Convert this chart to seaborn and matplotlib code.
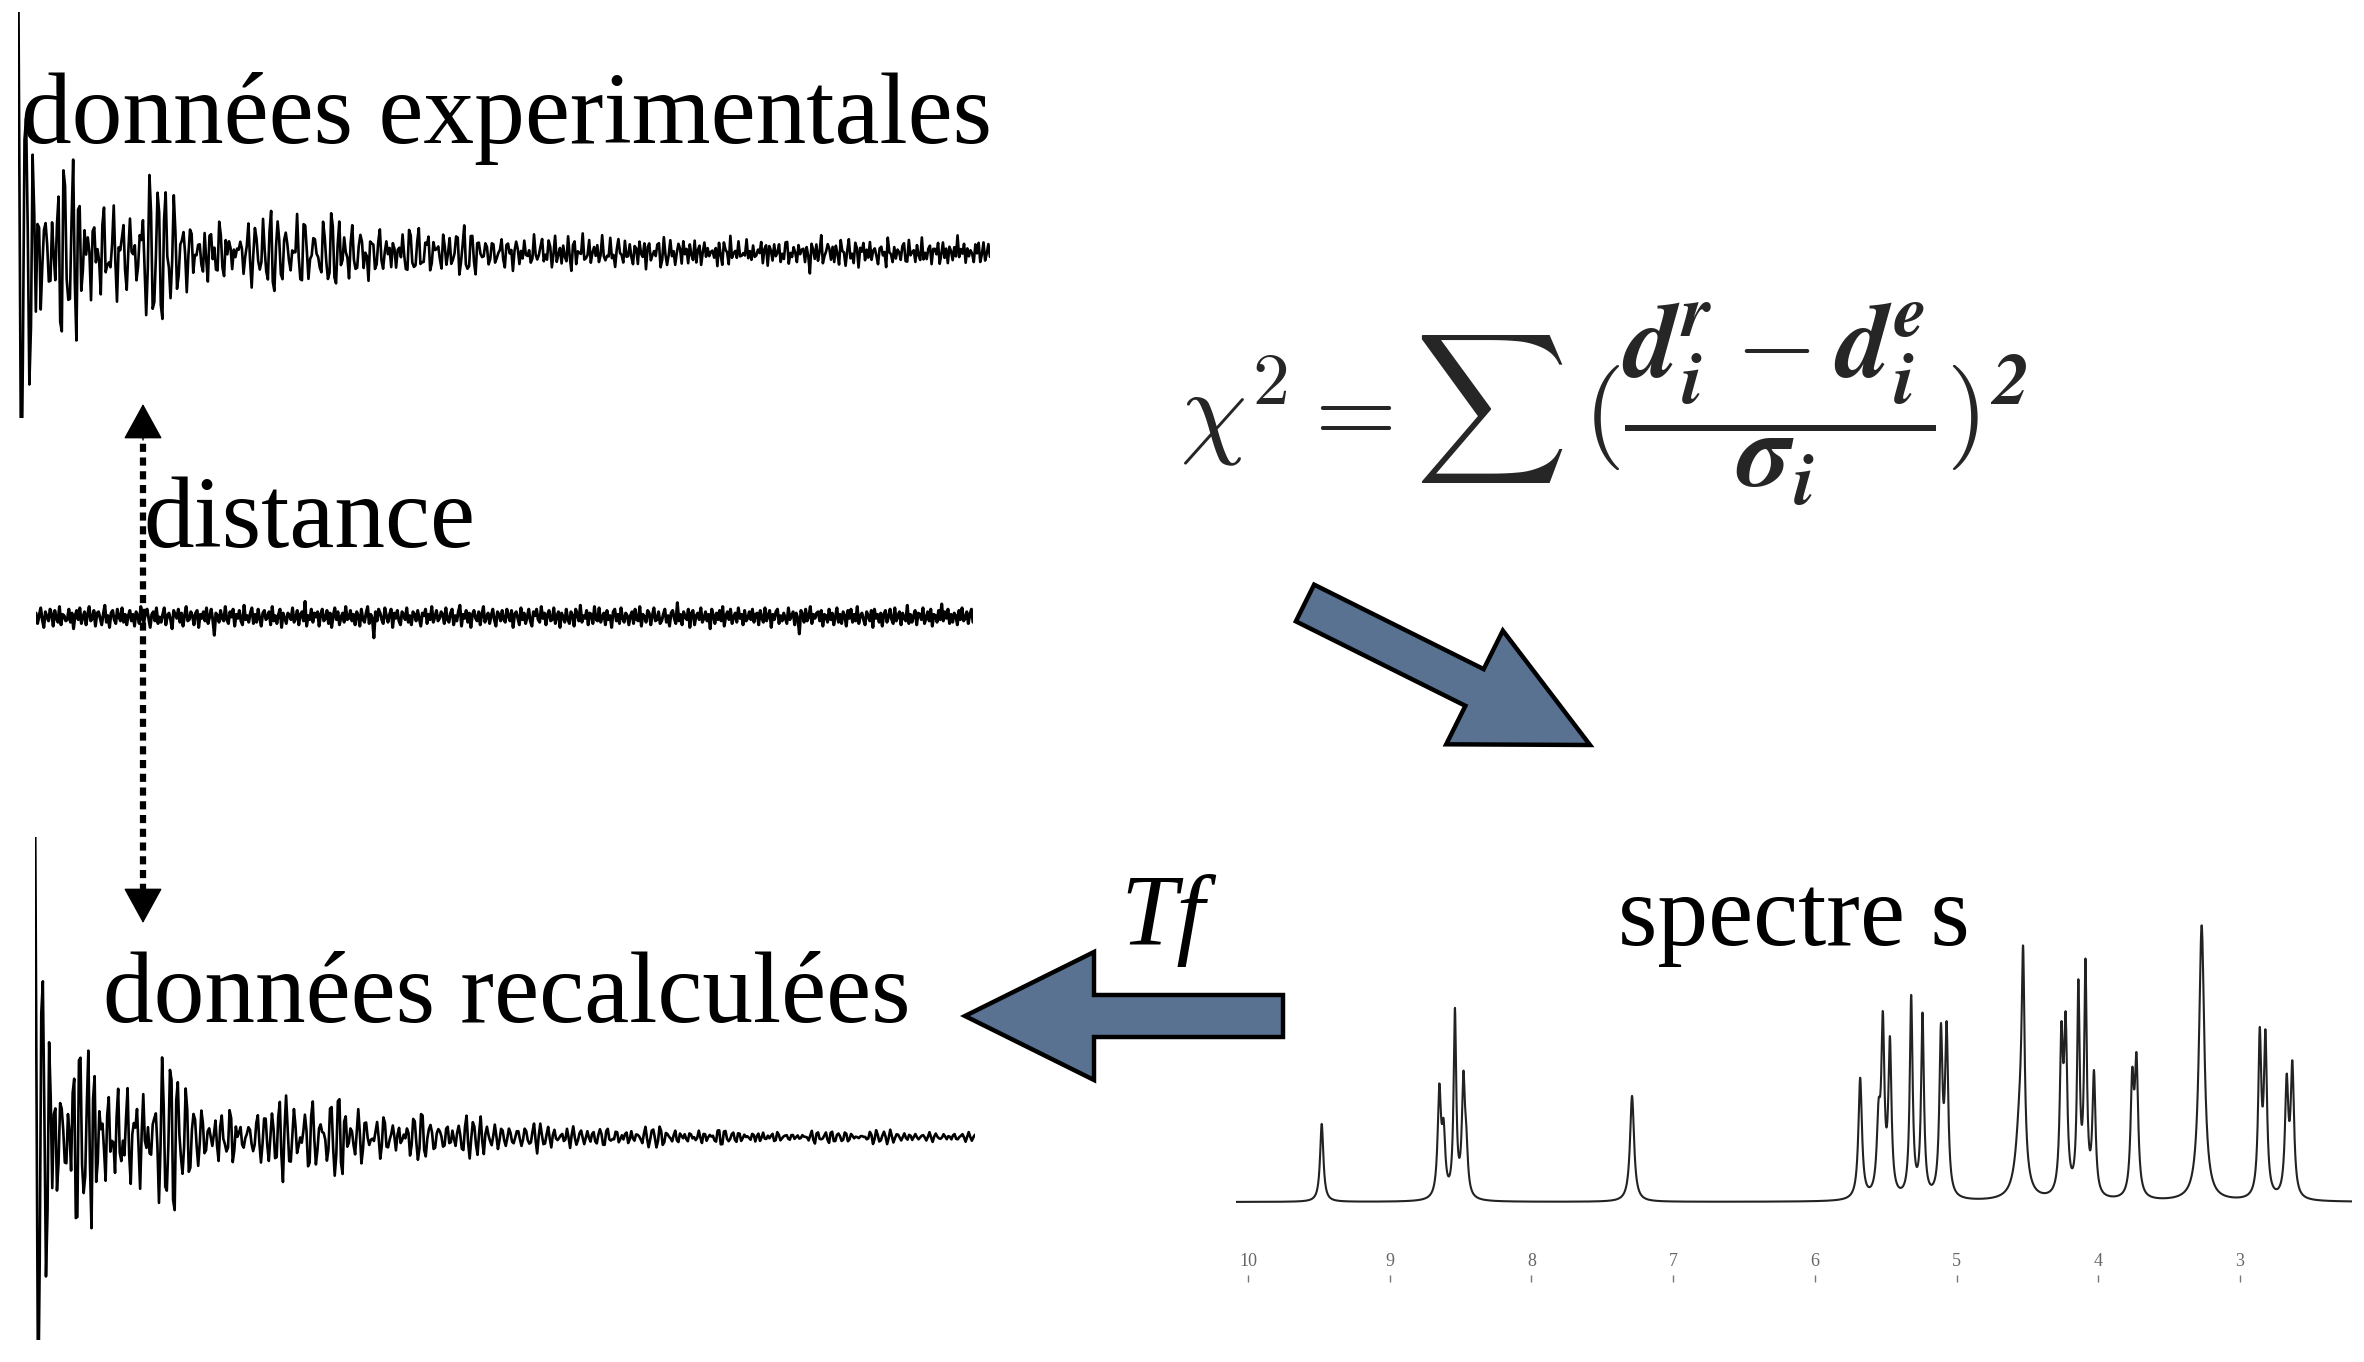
import numpy as np
import pandas as pd
import matplotlib.pyplot as plt
import seaborn as sns
from matplotlib.patches import FancyArrow

sns.set_theme(style="white")
plt.rcParams["font.family"] = ["Liberation Serif", "DejaVu Serif"]
plt.rcParams["mathtext.fontset"] = "cm"

W, H = 2364, 1362
OUT = "out.png"

# ----------------------------------------------------------------------
# data
# ----------------------------------------------------------------------
# NMR peak list: chemical shift (ppm), height (px), line width FWHM (ppm)
peak_ppm = [9.48, 8.65, 8.62, 8.54, 8.48, 8.46, 7.29,
            5.68, 5.55, 5.52, 5.47, 5.32, 5.24, 5.11, 5.07,
            4.55, 4.53, 4.26, 4.23, 4.14, 4.09, 4.03,
            3.76, 3.73, 3.27, 2.86, 2.82, 2.67, 2.63]
peak_height = [78, 105, 60, 185, 112, 40, 106,
               121, 70, 165, 150, 200, 181, 160, 163,
               80, 195, 150, 160, 205, 225, 120,
               110, 128, 276, 158, 155, 112, 128]
peak_width = [0.028, 0.028, 0.028, 0.022, 0.026, 0.026, 0.034,
              0.030, 0.030, 0.026, 0.026, 0.024, 0.024, 0.026, 0.026,
              0.070, 0.024, 0.026, 0.026, 0.022, 0.022, 0.026,
              0.028, 0.028, 0.045, 0.026, 0.026, 0.028, 0.028]

spec_ticks = [10, 9, 8, 7, 6, 5, 4, 3]

# residual (experimental - recalculated), one value per sample
residual = [
    3, -5, 1, 7, -2, -8, 4, 0, -3, 6, 2, -7, 5, -1, -4, 8, -6, 2, 1, -3,
    -2, 6, -4, 3, -9, 1, 5, -2, 7, -5, 0, 4, -6, 2, 8, -3, -1, 5, -7, 3,
    4, -1, -6, 2, 9, -4, 1, -8, 3, 5, -2, -5, 6, 0, -3, 7, -4, 2, -6, 1,
    5, -3, 2, -7, 4, 1, -5, 8, -2, -4, 3, 6, -1, -8, 2, 4, -3, 7, -5, 0,
    -4, 2, 7, -6, 1, 3, -2, -9, 5, 2, -1, 6, -4, 3, -7, 1, 8, -3, -2, 4,
    1, -6, 3, 5, -8, 2, -1, 4, -3, 7, -5, 0, 6, -2, -14, 3, 1, -4, 5, -1,
    -3, 8, -2, -5, 4, 0, 6, -7, 2, -1, 5, -3, -6, 9, -2, 1, -4, 3, 7, -5,
    2, -4, 6, -1, -7, 3, 5, -2, 0, 4, -6, 8, -3, 1, -5, 2, 6, -8, 3, -1,
    -5, 3, 1, -2, 7, -4, -1, 5, -6, 2, 4, -3, 12, -7, 1, -2, 6, -4, 3, 0,
    4, -7, 2, 6, -3, -1, 5, -5, 3, -8, 1, 7, -2, 4, -6, 0, 3, -4, 8, -2,
    -1, 5, -3, 2, -6, 4, 1, -7, 6, -2, -4, 3, 8, -5, 2, -1, -16, 4, -3, 6,
    3, -2, -5, 7, 1, -4, 2, 6, -8, 3, -1, 5, -3, -6, 4, 2, -2, 7, -4, 1,
    -6, 4, 2, -3, 5, -1, -7, 3, 1, 6, -5, 2, -2, 8, -4, 0, 5, -3, -1, 4,
    2, -5, 7, -2, -4, 3, 6, -6, 1, -3, 4, 9, -7, 2, -1, 5, -4, 3, -8, 2,
    5, -1, -3, 4, -6, 2, 8, -4, 0, 3, -5, 1, 6, -2, -7, 4, 2, -3, 5, -2,
    -4, 6, 1, -3, 5, -8, 2, 4, -1, -6, 7, -2, 3, -5, 0, 6, -3, -7, 4, 1,
    6, -2, -4, 8, -1, 3, -6, 2, 5, -3, -2, 7, -5, 1, 4, -8, 3, 0, -4, 6,
    -2, -5, 4, 1, -7, 6, 2, -3, 9, -4, 1, -1, 5, -6, 3, 2, -5, 8, -2, -3,
    7, -4, 0, 3, -6, 5, -2, 1, -8, 4, 6, -3, 2, -5, 7, -1, -4, 3, 1, -6,
    1, 4, -5, 6, -2, -3, 8, -7, 2, 0, -4, 5, 3, -6, 1, 7, -3, -2, 4, -5,
    -3, 2, 6, -4, 1, -7, 3, 5, -1, -5, 11, -3, 2, -6, 4, 0, -2, 6, -8, 3,
    5, -6, 1, 3, -2, 7, -4, -1, 4, -3, 2, -9, 6, 1, -5, 3, -2, 5, -3, 8,
    -7, 1, 4, -2, 6, -5, 0, 3, -4, 7, -1, 2, -6, 5, -3, -1, 4, -2, 6, -4,
    2, 3, -6, 5, -1, -4, 7, -3, 1, 5, -8, 2, -2, 4, 6, -5, 1, -3, 3, -1,
    -5, 7, -2, 1, 4, -6, 3, -1, -13, 5, 2, -4, 6, -3, 0, 8, -5, 2, -1, 3,
    4, -3, 5, -7, 2, 1, -4, 6, -2, 3, -6, 0, 7, -4, 2, -5, 4, 1, -7, 5,
    -1, 6, -4, 2, -3, 8, -5, 1, 3, -2, -6, 4, 1, -3, 5, -8, 6, -1, 2, -4,
    3, -7, 2, 5, -4, 0, 6, -2, -5, 7, -3, 1, 4, -6, 3, -1, -3, 9, -5, 2,
    -4, 1, 5, -6, 3, 2, -2, 7, -5, -1, 4, -3, 6, -7, 2, 1, -4, 5, -2, 10,
    -3, 4, -1, 6, -5, 2, -4, 3, 1, -6, 5, -2, 7, -3, -1, 4, -5, 2, 6, -4,
]

# ----------------------------------------------------------------------
# spectrum (Lorentzian lines) and its transform (the recalculated FID)
# ----------------------------------------------------------------------
ppm = np.linspace(10.085, 2.209, 5000)
spec = np.zeros_like(ppm)
for p, h, w in zip(peak_ppm, peak_height, peak_width):
    spec += h * (w / 2) ** 2 / ((ppm - p) ** 2 + (w / 2) ** 2)
spec_df = pd.DataFrame({"ppm": ppm, "intensity": spec})

N = len(residual)
t = np.arange(N)
carrier, fscale, tau = -4.0, 0.0256, 0.06   # ppm -> cycles / sample, decay
fid = np.zeros(N)
for p, h, w in zip(peak_ppm, peak_height, peak_width):
    fid += h * w * np.cos(2 * np.pi * (p - carrier) * fscale * t) * np.exp(-np.pi * w * tau * t)
fid /= fid.max()

res = np.array(residual, dtype=float)
recalc_df = pd.DataFrame({"t": t, "y": 350 * fid})
exp_df = pd.DataFrame({"t": t, "y": 330 * fid + 1.5 * res})
res_df = pd.DataFrame({"t": t, "y": 1.3 * res})

fig = plt.figure(figsize=(W / 100, H / 100), dpi=100)
fig.patch.set_facecolor("white")


def px_axes(x0, x1, y_top, y_bot):
    a = fig.add_axes([x0 / W, 1 - y_bot / H, (x1 - x0) / W, (y_bot - y_top) / H])
    a.set_facecolor("none")
    return a


def trace(df, x0, x1, base, lw, up=330, down=330):
    # the axes window is the visible band of the trace: up / down px round base
    a = px_axes(x0, x1, base - up, base + down)
    sns.lineplot(data=df, x="t", y="y", ax=a, color="black", lw=lw,
                 estimator=None, sort=False)
    a.set_xlim(0, N - 1); a.set_ylim(-down, up)
    a.set_axis_off()
    return a


trace(exp_df, 18, 990, 253, 1.9, up=241, down=165)
trace(res_df, 36, 973, 617, 2.2)
trace(recalc_df, 35, 975, 1137, 1.9, up=300, down=203)

# spectrum panel
sp = px_axes(1236, 2352, 880, 1282)
sns.lineplot(data=spec_df, x="ppm", y="intensity", ax=sp, color="#222222",
             lw=1.5, estimator=None, sort=False)
sp.set_xlim(10.085, 2.209)
sp.set_ylim(-80, 322)
sp.set_xticks(spec_ticks)
sp.set_xticklabels([str(v) for v in spec_ticks])
sp.set_yticks([])
sp.set_xlabel(""); sp.set_ylabel("")
for s in sp.spines.values():
    s.set_visible(False)
sp.tick_params(axis="x", direction="in", length=5, width=1, color="#777",
               bottom=True, pad=-21, labelsize=13, labelcolor="#666")

# overlay in figure pixels for text and arrows
ov = fig.add_axes([0, 0, 1, 1])
ov.set_xlim(0, W); ov.set_ylim(H, 0)
ov.set_axis_off(); ov.set_facecolor("none")

txt = dict(fontsize=73, color="black", va="baseline", ha="left")
ov.text(21, 143, "données experimentales", **txt)
ov.text(143, 547, "distance", **txt)
ov.text(103, 1022, "données recalculées", **txt)
ov.text(1618, 945, "spectre s", **txt)
ov.text(1120, 945, "Tf", style="italic", **txt)

ov.text(1604, 404,
        r"$\chi^2 = \sum\,(\dfrac{\mathbfit{d}_{\mathbfit{i}}^{\mathbfit{r}} - \mathbfit{d}_{\mathbfit{i}}^{\mathbfit{e}}}"
        r"{\mathbfit{\sigma}_{\mathbfit{i}}})^{\mathbfit{2}}$",
        fontsize=76, ha="center", va="center")

# dotted double arrow
ov.plot([143, 143], [430, 898], color="black", lw=4.5, ls=(0, (1.3, 0.9)),
        solid_capstyle="butt")
head = dict(arrowstyle="-|>,head_length=0.4,head_width=0.22", color="black",
            lw=1, mutation_scale=58, shrinkA=0, shrinkB=0)
ov.annotate("", xy=(143, 404), xytext=(143, 440), arrowprops=head)
ov.annotate("", xy=(143, 923), xytext=(143, 887), arrowprops=head)

# blue block arrows
blue = "#5a7292"
ov.add_patch(FancyArrow(1305, 603, 285, 142, width=41, head_width=127,
                        head_length=129, length_includes_head=True,
                        fc=blue, ec="black", lw=3.2, joinstyle="miter"))
ov.add_patch(FancyArrow(1283, 1016, -318, 0, width=42, head_width=128,
                        head_length=129, length_includes_head=True,
                        fc=blue, ec="black", lw=3.2, joinstyle="miter"))

fig.savefig(OUT, dpi=100, facecolor="white")
plt.close(fig)
